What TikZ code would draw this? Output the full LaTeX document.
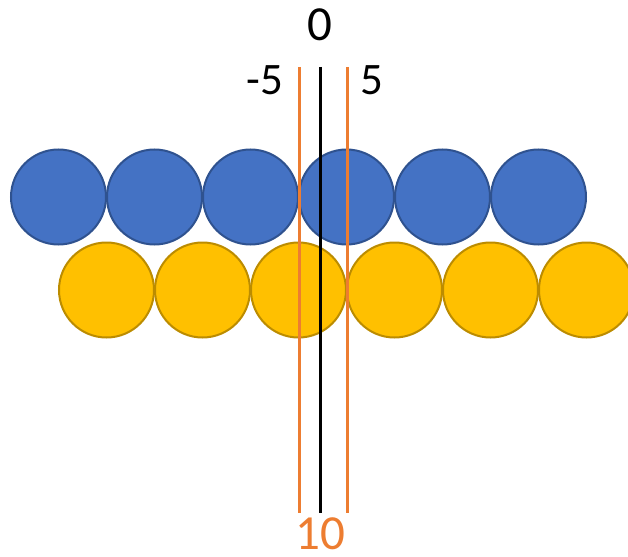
\documentclass[tikz,border=0pt]{standalone}
\usepackage{fontspec}
\setmainfont{Carlito}
\usetikzlibrary{positioning}

\begin{document}
\begin{tikzpicture}[
    x=1pt, y=-1pt,
    bluedisc/.style={circle, draw=blueline, fill=bluefill, line width=2pt, minimum size=95pt, inner sep=0pt},
    golddisc/.style={circle, draw=goldline, fill=goldfill, line width=2pt, minimum size=95pt, inner sep=0pt},
    lbl/.style={font=\fontsize{45}{45}\selectfont, inner sep=0pt},
    biglbl/.style={font=\fontsize{49}{49}\selectfont, inner sep=0pt},
    axis/.style={line width=3pt},
    edge/.style={line width=3pt, draw=edgeorange}
]
\definecolor{bluefill}{HTML}{4472C4}
\definecolor{blueline}{HTML}{2F528F}
\definecolor{goldfill}{HTML}{FFC000}
\definecolor{goldline}{HTML}{BC8C00}
\definecolor{edgeorange}{HTML}{ED7D31}
\useasboundingbox (0,0) rectangle (628,556);
\clip (0,0) rectangle (628,556);
% two rows of discs
\foreach \i in {0,...,5} {
    \node[golddisc] (y\i) at (106.5+96*\i,290) {};
    \node[bluedisc] (b\i) at (58.5+96*\i,197) {};
}
% labels
\node[biglbl] (zero) at (320,25) {0};
\node[lbl] (minus) at (265,80) {-5};
\node[lbl] (plus) at (372,80) {5};
\node[biglbl, text=edgeorange] (ten) at (320,534) {10};
% vertical lines
\coordinate (ctop) at (320,67);
\coordinate (cbot) at (320,513);
\coordinate (ltop) at (299,67);
\coordinate (lbot) at (299,513);
\coordinate (rtop) at (347,67);
\coordinate (rbot) at (347,513);
\draw[edge] (ltop) -- (lbot);
\draw[edge] (rtop) -- (rbot);
\draw[axis] (ctop) -- (cbot);
\end{tikzpicture}
\end{document}
